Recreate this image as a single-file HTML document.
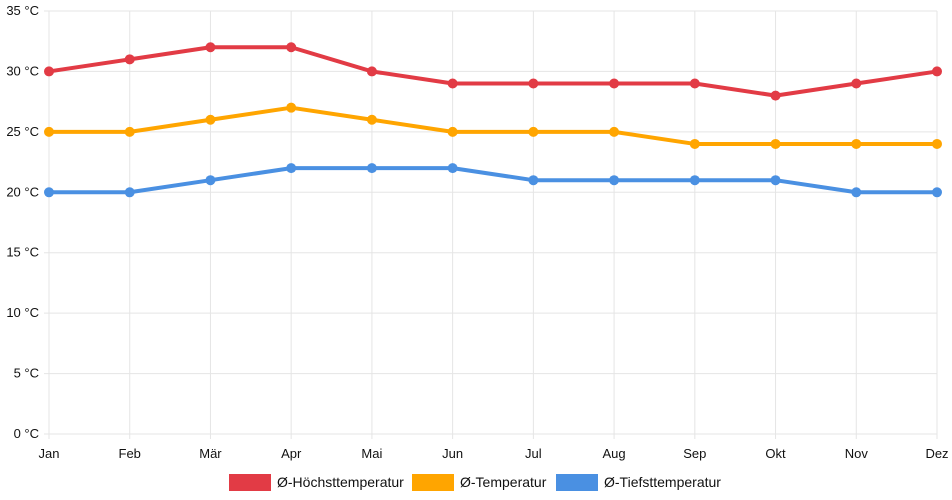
<!DOCTYPE html>
<html><head><meta charset="utf-8"><style>
body{margin:0;background:#fff;}
svg{display:block;font-family:"Liberation Sans",sans-serif;}
</style></head><body>
<svg id="c" width="952" height="500"></svg>
<script>
const months=["Jan","Feb","Mär","Apr","Mai","Jun","Jul","Aug","Sep","Okt","Nov","Dez"];
const highTemps=[30,31,32,32,30,29,29,29,29,28,29,30];
const avgTemps=[25,25,26,27,26,25,25,25,24,24,24,24];
const lowTemps=[20,20,21,22,22,22,21,21,21,21,20,20];
const yTicks=[0,5,10,15,20,25,30,35];
const seriesNames=["Ø-Höchsttemperatur","Ø-Temperatur","Ø-Tiefsttemperatur"];
const NS="http://www.w3.org/2000/svg";
const svg=document.getElementById('c');
const x0=49,x1=937,yTop=11,yBot=434,yMax=35;
const xs=i=>x0+(x1-x0)*i/(months.length-1);
const ys=v=>yBot-(yBot-yTop)*v/yMax;
function mk(t,a){const e=document.createElementNS(NS,t);for(const k in a)e.setAttribute(k,a[k]);svg.appendChild(e);return e;}
yTicks.forEach(v=>{
 const l=mk('line',{x1:x0-5,x2:x1,y1:ys(v),y2:ys(v),stroke:'#e5e5e5','stroke-width':1});
 
 
 const t=mk('text',{x:x0-10,y:ys(v)+4,'text-anchor':'end','font-size':13,fill:'#111'});
 t.textContent=v+' °C';
 
 
});
months.forEach((m,i)=>{
 const l=mk('line',{x1:xs(i),x2:xs(i),y1:yTop,y2:yBot+5,stroke:'#e5e5e5','stroke-width':1});
 
 
 const t=mk('text',{x:xs(i),y:yBot+24,'text-anchor':'middle','font-size':13,fill:'#111'});
 t.textContent=m;
 
 
});
const colors=['#e23b45','#ffa500','#4a90e2'];
const data=[highTemps,avgTemps,lowTemps];
const slugs=['high','avg','low'];
data.forEach((d,s)=>{
 const p=mk('polyline',{points:d.map((v,i)=>xs(i)+','+ys(v)).join(' '),fill:'none',stroke:colors[s],'stroke-width':4,'stroke-linejoin':'round'});
 
 
 d.forEach((v,i)=>{
  const c=mk('circle',{cx:xs(i),cy:ys(v),r:5,fill:colors[s]});
  
  
 });
});
const legX=[229,412,556];
seriesNames.forEach((n,s)=>{
 const r=mk('rect',{x:legX[s],y:474,width:42,height:17,fill:colors[s]});
 
 
 const t=mk('text',{x:legX[s]+48,y:487,'font-size':14,fill:'#111'});
 t.textContent=n;
 
 
});
</script>
</body></html>
